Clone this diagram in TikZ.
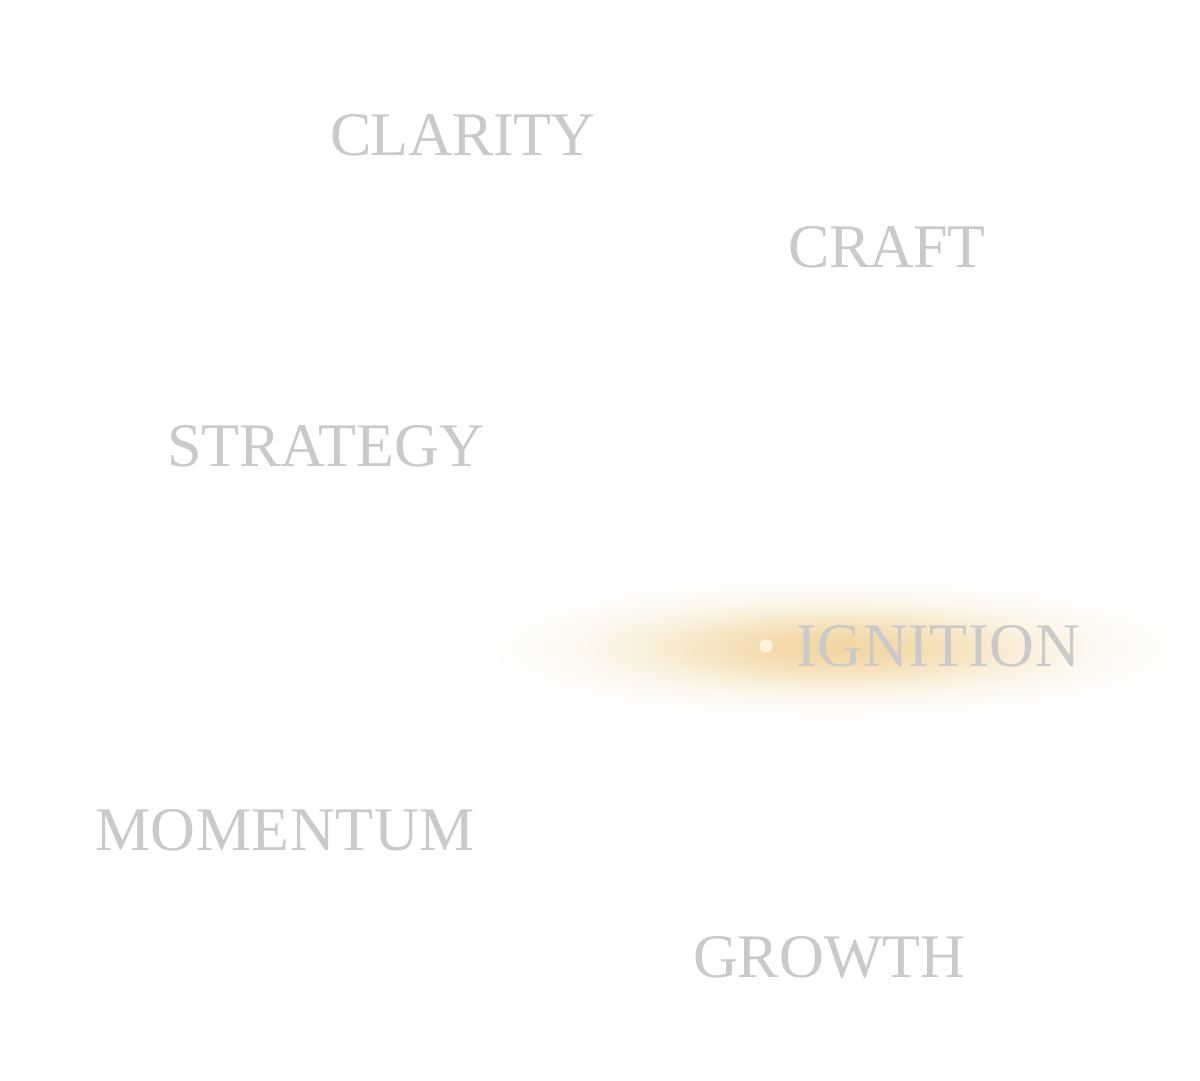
\documentclass[tikz,border=0pt]{standalone}
\usepackage{fontspec}
\setmainfont{Liberation Serif}
\definecolor{wordgray}{HTML}{CACACA}
\definecolor{glowc}{RGB}{236,196,120}
\definecolor{dotc}{RGB}{252,242,222}
\pgfdeclareradialshading{glow}{\pgfpoint{0bp}{0bp}}{color(0bp)=(glowc!68!white); color(4bp)=(glowc!62!white); color(8bp)=(glowc!46!white); color(12bp)=(glowc!27!white); color(16bp)=(glowc!13!white); color(20bp)=(glowc!5!white); color(23bp)=(glowc!1!white); color(25bp)=(white); color(50bp)=(white)}
\tikzset{
  word/.style={anchor=base west, inner sep=0pt, text=wordgray, font=\fontsize{62}{62}\selectfont}
}
\begin{document}
\begin{tikzpicture}[x=1pt,y=-1pt]
\useasboundingbox (0,0) rectangle (1200,1080);
\fill[white] (0,0) rectangle (1200,1080);
\clip (0,0) rectangle (1200,1080);
\shade[shading=glow] (835,648) ellipse [x radius=390pt, y radius=78pt];
\fill[dotc] (766,646) circle[radius=6.5pt];
\node[word] (clarity) at (330,155) {\addfontfeature{LetterSpace=-1.0}CLARITY};
\node[word] (craft) at (788,267) {\addfontfeature{LetterSpace=-1.0}CRAFT};
\node[word] (strategy) at (167,466) {STRATEGY};
\node[word] (ignition) at (796,666) {\addfontfeature{LetterSpace=1.2}IGNITION};
\node[word] (momentum) at (95,850) {\addfontfeature{LetterSpace=1.0}MOMENTUM};
\node[word] (growth) at (693,977) {GROWTH};
\end{tikzpicture}
\end{document}
